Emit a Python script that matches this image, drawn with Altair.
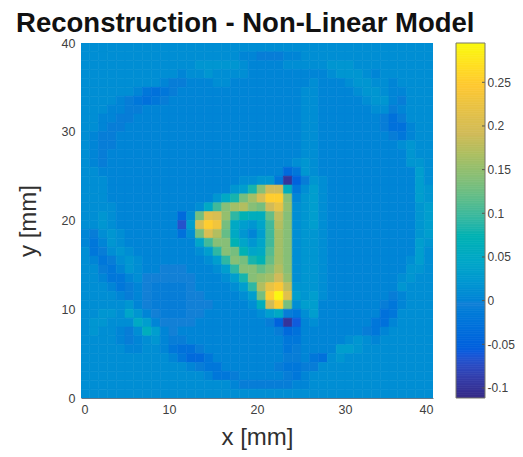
import altair as alt
import numpy as np
import pandas as pd

PARULA = ["#352a87", "#0f5cdd", "#1481d6", "#06a4ca", "#2eb7a4",
          "#87bf77", "#d1bb59", "#fec832", "#f9fb0e"]
STOPS = [-0.1115, -0.06, -0.004, 0.038, 0.09, 0.14, 0.19, 0.245, 0.295]
VMIN, VMAX = -0.1115, 0.295
TICKS = [-0.1, -0.05, 0, 0.05, 0.1, 0.15, 0.2, 0.25]

# Reconstruction values in hundredths, one row per mm, from y=39 down to y=0, x=0..39
ROWS = [
 [1,1,1,1,1,1,1,1,1,1, 1,1,1,1,1,1,1,1,1,1, 1,1,1,1,1,1,1,1,1,1, 1,1,1,1,1,1,1,1,1,1],
 [1,1,1,1,1,1,1,1,1,1, 1,1,1,1,1,1,1,1,0,0, -1,-1,-1,0,0,1,1,1,1,1, 1,1,1,1,1,1,1,1,1,1],
 [1,1,1,1,1,1,1,1,1,1, 1,1,1,2,2,2,2,2,1,0, 0,0,0,1,1,1,1,1,2,2, 2,1,1,1,1,1,1,1,1,1],
 [1,1,1,1,1,1,1,1,1,1, 1,0,1,1,2,1,1,1,1,0, 0,0,0,0,0,0,0,0,1,2, 2,2,1,0,1,1,1,1,1,1],
 [1,1,1,1,1,1,1,1,1,0, -1,-1,0,0,0,1,1,0,0,0, 0,0,0,0,0,0,1,0,0,0, 1,2,2,1,1,0,1,1,1,1],
 [1,1,1,1,1,1,0,-2,-3,-2, -1,0,0,0,0,0,0,0,0,0, 0,0,0,0,0,1,1,0,0,0, 0,1,2,2,1,0,0,1,1,1],
 [1,1,1,1,0,-1,-2,-3,-2,-1, 0,0,0,0,0,0,0,0,0,0, 0,0,0,0,0,1,1,0,0,0, 0,0,1,2,2,0,-1,1,1,1],
 [1,1,1,0,0,-1,-1,0,0,0, 0,0,0,0,0,0,0,0,0,0, 0,0,0,0,0,1,1,0,0,0, 0,0,0,1,1,-1,0,1,1,1],
 [1,1,0,0,-1,-1,0,0,0,0, 0,0,0,0,0,0,0,0,0,0, 0,0,0,0,0,1,1,0,0,0, 0,0,0,0,-1,-3,-1,1,1,1],
 [1,1,0,-1,-1,0,0,0,0,0, 0,0,0,0,0,0,0,0,0,0, 0,0,0,0,0,1,1,0,0,0, 0,0,0,0,-1,-3,-3,0,1,1],
 [1,0,-1,-1,0,0,0,0,0,0, 0,0,0,0,0,0,0,0,0,0, 0,0,0,0,0,1,1,0,0,0, 0,0,0,0,0,-1,-2,0,1,1],
 [1,0,-1,-1,0,0,0,0,0,0, 0,0,0,0,0,0,0,0,0,0, 0,0,0,0,0,1,1,0,0,0, 0,0,0,0,0,0,1,2,1,1],
 [1,0,-1,0,0,0,0,0,0,0, 0,0,0,0,0,0,0,0,0,0, 0,0,0,0,0,1,1,0,0,0, 0,0,0,0,0,0,0,2,1,1],
 [1,0,-1,0,0,0,0,0,0,0, 0,0,0,0,0,0,0,0,0,0, 0,0,0,0,1,2,1,0,0,0, 0,0,0,0,0,0,0,2,2,1],
 [1,1,0,0,0,0,0,0,0,0, 0,0,0,0,0,0,0,0,0,0, 0,0,0,-4,-2,2,1,0,0,0, 0,0,0,0,0,0,0,0,3,1],
 [1,1,1,0,0,0,0,0,0,0, 0,0,0,0,0,0,0,0,1,1, 2,2,-2,-10,-5,-1,2,1,0,0, 0,0,0,0,0,0,0,0,3,1],
 [1,1,1,0,0,0,0,0,0,0, 0,0,0,0,0,0,0,2,3,8, 14,19,19,6,-2,1,3,1,0,0, 0,0,0,0,0,0,0,0,3,2],
 [1,1,1,0,0,0,0,0,0,0, 0,0,0,0,0,2,5,8,13,16, 20,25,25,14,0,2,3,1,0,0, 0,0,0,0,0,0,0,0,3,2],
 [1,1,1,1,0,0,0,0,0,0, 0,0,0,1,5,10,14,16,17,14, 13,19,22,15,1,2,3,1,0,0, 0,0,0,0,0,0,0,0,2,3],
 [1,1,2,1,0,0,0,0,0,0, 0,-4,1,13,21,20,15,9,7,6, 6,12,18,14,1,2,3,1,0,0, 0,0,0,0,0,0,0,0,2,3],
 [1,1,2,1,0,0,0,0,0,0, 0,-7,3,20,25,23,13,5,3,2, 4,10,17,14,1,2,3,1,0,0, 0,0,0,0,0,0,0,0,2,3],
 [0,-1,1,2,1,0,0,0,0,0, 0,-3,1,13,20,17,12,5,2,0, 3,10,16,14,1,2,2,1,0,0, 0,0,0,0,0,0,0,0,2,3],
 [0,-2,0,2,1,0,0,0,0,0, 0,0,0,4,10,14,14,7,4,2, 4,10,16,14,1,2,2,1,0,0, 0,0,0,0,0,0,0,0,3,2],
 [1,-2,-1,1,2,1,0,0,0,0, 0,0,0,1,3,9,14,13,7,4, 5,11,16,14,1,2,2,1,0,0, 0,0,0,0,0,0,0,0,3,1],
 [1,0,-2,-1,1,2,1,0,0,0, 0,0,0,0,1,3,9,14,13,8, 7,12,16,14,1,2,2,1,0,0, 0,0,0,0,0,0,0,1,3,1],
 [1,1,-1,-2,0,2,1,0,0,-0.5, -0.5,-0.5,0,0,0,1,3,9,14,14, 12,14,17,14,1,2,2,1,0,0, 0,0,0,0,0,0,0,2,2,1],
 [1,1,0,-2,-2,0,1,-0.5,-0.5,-0.5, -0.5,-0.5,-0.5,0,0,0,1,3,8,14, 15,16,19,15,1,2,2,1,0,0, 0,0,0,0,0,0,1,2,1,1],
 [1,1,1,0,-2,-1,0,-0.5,-1,-1, -1,-1,-0.5,0,0,0,0,1,3,9, 17,22,24,18,2,2,2,1,0,0, 0,0,0,0,0,0,2,1,1,1],
 [1,1,1,1,0,-1,0,-0.5,-1,-1, -1,-1,-0.5,-0.5,0,0,0,0,1,3, 13,25,29,21,3,2,3,1,0,0, 0,0,0,0,0,-1,0,1,1,1],
 [1,1,1,1,1,2,0,-0.5,-1,-1, -1,-1,-0.5,-0.5,-0.5,0,0,0,0,1, 6,19,25,13,1,3,3,0,0,0, 0,0,0,0,-1,-2,0,1,1,1],
 [1,1,2,2,1,4,2,0,-0.5,-1, -1,-1,-0.5,-0.5,0,0,0,0,0,0, 1,3,5,-1,-2,1,3,0,0,0, 0,0,0,0,-3,-2,1,1,1,1],
 [1,2,2,1,1,1,5,3,0,-0.5, -0.5,-0.5,-0.5,0,0,0,0,0,0,0, 0,-1,-5,-10,-6,0,1,0,0,0, 0,0,0,-2,-3,0,1,1,1,1],
 [1,2,1,1,0,-1,1,6,3,0, -0.5,0,0,0,0,0,0,0,0,0, 0,0,-1,-4,-3,0,0,0,0,0, 0,0,-1,-2,0,1,1,1,1,1],
 [1,1,1,1,0,-1,0,1,2,0, -1,-1,0,0,0,0,0,0,0,0, 0,0,0,-2,-2,0,0,0,0,0, 1,2,1,0,1,1,1,1,1,1],
 [1,1,1,1,1,0,0,1,1,0, -2,-3,-3,-1,0,0,0,0,0,0, 0,0,0,-2,-1,0,0,0,0,3, 3,2,1,1,1,1,1,1,1,1],
 [1,1,1,1,1,1,1,1,1,1, 0,-2,-4,-4,-2,0,0,0,0,0, 0,0,0,-1,-1,0,-2,-3,1,2, 1,1,1,1,1,1,1,1,1,1],
 [1,1,1,1,1,1,1,1,1,1, 1,1,0,-1,-2,-2,0,0,0,0, 0,0,-1,-2,-2,-1,-1,1,1,1, 1,1,1,1,1,1,1,1,1,1],
 [1,1,1,1,1,1,1,1,1,1, 1,1,1,1,0,-2,-2,-1,0,0, 0,0,0,-1,-2,0,1,1,1,1, 1,1,1,1,1,1,1,1,1,1],
 [1,1,1,1,1,1,1,1,1,1, 1,1,1,1,1,1,1,0,-1,-1, -1,-1,-1,-1,0,0,1,1,1,1, 1,1,1,1,1,1,1,1,1,1],
 [1,1,1,1,1,1,1,1,1,1, 1,1,1,1,1,1,1,1,1,1, 1,1,1,1,1,1,1,1,1,1, 1,1,1,1,1,1,1,1,1,1],
]
assert len(ROWS) == 40 and all(len(r) == 40 for r in ROWS), [len(r) for r in ROWS]

records = []
for i, row in enumerate(ROWS):
    y = 39 - i
    for x, v in enumerate(row):
        records.append({"x": x, "x2": x + 1, "y": y, "y2": y + 1, "v": v / 100})
grid = pd.DataFrame(records)

color_scale = alt.Scale(domain=STOPS, range=PARULA, clamp=True)
AXIS_COLOR = "#404040"

heat = alt.Chart(grid).mark_rect(strokeWidth=0.6, clip=True).encode(
    x=alt.X("x:Q", scale=alt.Scale(domain=[0, 40], nice=False),
            axis=alt.Axis(values=[0, 10, 20, 30, 40], title="x [mm]", grid=False, ticks=False,
                          labelFontSize=12.5, labelColor=AXIS_COLOR, labelPadding=5,
                          titleFontSize=24, titleFontWeight="normal", titleColor="#303030",
                          titleFont="Liberation Sans", labelFont="Liberation Sans",
                          titlePadding=10, domainColor="#667788")),
    x2="x2:Q",
    y=alt.Y("y:Q", scale=alt.Scale(domain=[0, 40], nice=False),
            axis=alt.Axis(values=[0, 10, 20, 30, 40], title="y [mm]", grid=False, ticks=False,
                          labelFontSize=12.5, labelColor=AXIS_COLOR, labelPadding=6,
                          titleFontSize=24, titleFontWeight="normal", titleColor="#303030",
                          titleFont="Liberation Sans", labelFont="Liberation Sans",
                          titlePadding=21, domain=False)),
    y2="y2:Q",
    color=alt.Color("v:Q", scale=color_scale, legend=None),
    stroke=alt.Stroke("v:Q", scale=color_scale, legend=None),
).properties(width=352, height=355)

bar_values = np.arange(VMIN, VMAX, 0.002).round(4).tolist()
bar_df = pd.DataFrame({"v": bar_values, "v2": [round(b + 0.0022, 4) for b in bar_values]})
y_scale = alt.Scale(domain=[VMIN, VMAX], nice=False, zero=False)

bar = alt.Chart(bar_df).mark_rect(strokeWidth=0.6, clip=True).encode(
    y=alt.Y("v:Q", scale=y_scale,
            axis=alt.Axis(orient="right", values=TICKS, title=None, grid=False, ticks=False, domain=False,
                          labelFontSize=12, labelColor=AXIS_COLOR, labelPadding=2,
                          labelFont="Liberation Sans",
                          labelExpr="datum.value == 0 ? '0' : replace(format(datum.value, '.2~f'), '\u2212', '-')")),
    y2="v2:Q",
    x=alt.value(0), x2=alt.value(29),
    color=alt.Color("v:Q", scale=color_scale, legend=None),
    stroke=alt.Stroke("v:Q", scale=color_scale, legend=None),
)
tick_df = pd.DataFrame({"v": TICKS})
bar_ticks = alt.Chart(tick_df).mark_rule(color="#55554a", strokeWidth=1).encode(
    y=alt.Y("v:Q", scale=y_scale), x=alt.value(26), x2=alt.value(29))
frame = alt.Chart(pd.DataFrame({"a": [0]})).mark_rect(fillOpacity=0, stroke="#77776a", strokeWidth=1).encode(
    x=alt.value(0), x2=alt.value(29), y=alt.value(0), y2=alt.value(355))
colorbar = alt.layer(bar, bar_ticks, frame).properties(width=29, height=355)

chart = alt.hconcat(heat, colorbar, spacing=22).resolve_scale(color="shared", stroke="shared").properties(
    title=alt.TitleParams("Reconstruction - Non-Linear Model", fontSize=27.5, fontWeight="bold",
                          font="Liberation Sans", color="#111111", anchor="start", offset=0),
    padding={"left": 8, "right": 0, "top": 1, "bottom": 0},
).configure_view(stroke=None)

chart.save("out.html", embed_options={"renderer": "svg", "actions": False})
